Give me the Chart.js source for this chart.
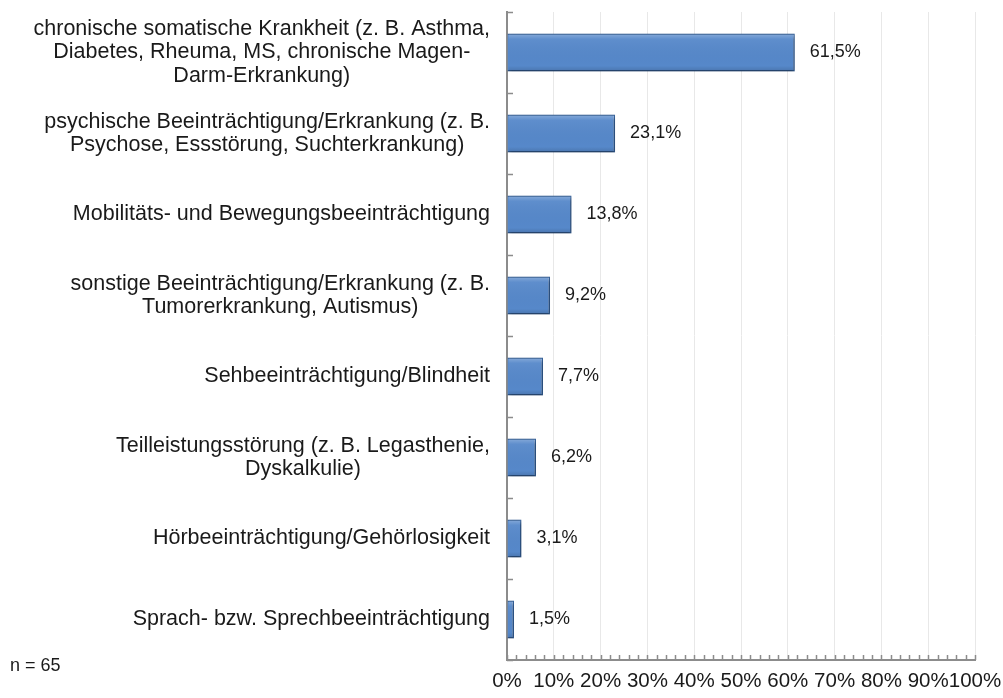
<!DOCTYPE html>
<html>
<head>
<meta charset="utf-8">
<script src="https://cdn.jsdelivr.net/npm/chart.js@4.4.1/dist/chart.umd.min.js"></script>
<style>
html, body { margin: 0; padding: 0; background: #fff; }
#wrap { width: 1003px; height: 698px; }
</style>
</head>
<body>
<div id="wrap"><canvas id="chartImpair"></canvas></div>
<script>
var categories = [
    ['chronische somatische Krankheit (z. B. Asthma,', 'Diabetes, Rheuma, MS, chronische Magen-', 'Darm-Erkrankung)'],
    ['psychische Beeinträchtigung/Erkrankung (z. B.', 'Psychose, Essstörung, Suchterkrankung)'],
    'Mobilitäts- und Bewegungsbeeinträchtigung',
    ['sonstige Beeinträchtigung/Erkrankung (z. B.', 'Tumorerkrankung, Autismus)'],
    'Sehbeeinträchtigung/Blindheit',
    ['Teilleistungsstörung (z. B. Legasthenie,', 'Dyskalkulie)'],
    'Hörbeeinträchtigung/Gehörlosigkeit',
    'Sprach- bzw. Sprechbeeinträchtigung'
];
var shares = [61.5, 23.1, 13.8, 9.2, 7.7, 6.2, 3.1, 1.5];
var xTicks = [0, 10, 20, 30, 40, 50, 60, 70, 80, 90, 100];
var sampleNote = 'n = 65';

var FONT = '"Liberation Sans", Arial, sans-serif';
var TEXT = '#1a1a1a';
var AXIS = '#8c8c8c';

function fmt(v) {
    return v.toFixed(1).replace('.', ',') + '%';
}

// bar shading, value labels, inner ticks, category labels
var decor = {
    id: 'decor',
    beforeDatasetsDraw: function (chart) {
        var ctx = chart.ctx;
        ctx.save();
        ctx.shadowColor = 'rgba(0,0,0,0.35)';
        ctx.shadowBlur = 4;
        ctx.shadowOffsetX = 1;
        ctx.shadowOffsetY = 2;
    },
    afterDatasetsDraw: function (chart) {
        var ctx = chart.ctx;
        ctx.restore();
        var meta = chart.getDatasetMeta(0);
        ctx.save();
        meta.data.forEach(function (bar, i) {
            var top = bar.y - bar.height / 2;
            var g = ctx.createLinearGradient(0, top, 0, top + bar.height);
            g.addColorStop(0, 'rgba(255,255,255,0.30)');
            g.addColorStop(0.15, 'rgba(255,255,255,0.05)');
            g.addColorStop(0.85, 'rgba(0,0,0,0.0)');
            g.addColorStop(1, 'rgba(0,0,0,0.15)');
            ctx.fillStyle = g;
            ctx.fillRect(bar.base + 1, top + 1, bar.x - bar.base - 2, bar.height - 2);

            ctx.fillStyle = TEXT;
            ctx.font = '18px ' + FONT;
            ctx.textAlign = 'left';
            ctx.textBaseline = 'middle';
            ctx.fillText(fmt(shares[i]), bar.x + 15, bar.y);
        });
        ctx.restore();
    },
    afterDraw: function (chart) {
        var ctx = chart.ctx;
        var x = chart.scales.x, y = chart.scales.y;
        var area = chart.chartArea;
        ctx.save();
        ctx.strokeStyle = AXIS;
        ctx.lineWidth = 1.5;
        ctx.beginPath();
        // category boundary ticks on y axis, pointing inward
        var band = (area.bottom - area.top) / categories.length;
        for (var i = 0; i <= categories.length; i++) {
            var yy = Math.round(area.top + i * band) + 0.5;
            ctx.moveTo(area.left, yy);
            ctx.lineTo(area.left + 6, yy);
        }
        // minor ticks every 2 % on x axis
        for (var v = 0; v <= 100; v += 2) {
            var xx = Math.round(x.getPixelForValue(v)) + 0.5;
            ctx.moveTo(xx, area.bottom);
            ctx.lineTo(xx, area.bottom - 5);
        }
        ctx.stroke();

        // category labels: block right aligned, lines centred inside block
        ctx.fillStyle = TEXT;
        ctx.font = '21.5px ' + FONT;
        ctx.textAlign = 'center';
        ctx.textBaseline = 'middle';
        var labelRight = area.left - 17;
        categories.forEach(function (lab, i) {
            var lines = Array.isArray(lab) ? lab : [lab];
            var w = Math.max.apply(null, lines.map(function (l) { return ctx.measureText(l).width; }));
            var cx = labelRight - w / 2;
            var cy = y.getPixelForValue(i);
            lines.forEach(function (l, k) {
                ctx.fillText(l, cx, cy + (k - (lines.length - 1) / 2) * 23.5);
            });
        });

        ctx.textAlign = 'left';
        ctx.font = '18px ' + FONT;
        ctx.fillText(sampleNote, 10, 666);
        ctx.restore();
    }
};

document.addEventListener('DOMContentLoaded', function () {
    var el = document.getElementById('chartImpair');
    new Chart(el, {
        type: 'bar',
        data: {
            labels: categories,
            datasets: [{
                data: shares,
                backgroundColor: '#5688CA',
                borderColor: '#35629C',
                borderWidth: 1.5,
                barPercentage: 0.47,
                categoryPercentage: 1
            }]
        },
        options: {
            indexAxis: 'y',
            responsive: true,
            maintainAspectRatio: false,
            animation: false,
            layout: { padding: { left: 0, right: 28, top: 12, bottom: 0 } },
            scales: {
                x: {
                    min: 0,
                    max: 100,
                    afterBuildTicks: function (scale) {
                        scale.ticks = xTicks.map(function (v) { return { value: v }; });
                    },
                    afterFit: function (scale) {
                        scale.height = 38;
                        scale.paddingLeft = 0;
                        scale.paddingRight = 0;
                    },
                    ticks: {
                        callback: function (v) { return v + '%'; },
                        font: { size: 20.5, family: FONT },
                        color: TEXT,
                        padding: 9,
                        maxRotation: 0,
                        autoSkip: false
                    },
                    grid: { color: '#e8e8e8', drawTicks: false },
                    border: { color: AXIS, width: 2 }
                },
                y: {
                    afterFit: function (scale) { scale.width = 507; },
                    ticks: { display: false },
                    grid: { display: false, drawTicks: false },
                    border: { color: AXIS, width: 2 }
                }
            },
            plugins: {
                legend: { display: false },
                tooltip: { enabled: false }
            }
        },
        plugins: [decor]
    });
});
</script>
</body>
</html>
